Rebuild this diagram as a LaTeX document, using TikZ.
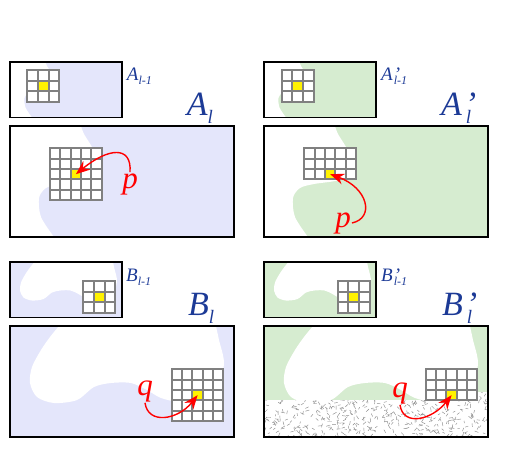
\documentclass[tikz,border=0pt]{standalone}
\usepackage{fontspec}
\setmainfont{Liberation Serif}
\usetikzlibrary{arrows.meta}

\definecolor{paleblue}{RGB}{228,230,251}
\definecolor{palegreen}{RGB}{214,236,208}
\definecolor{labelblue}{RGB}{28,58,150}

\newcommand{\bigsub}[1]{\raisebox{-8pt}{\fontsize{19}{19}\selectfont #1}}
\newcommand{\smallsub}[1]{\raisebox{-4pt}{\fontsize{12}{12}\selectfont #1}}

% grid of cells: x, y, cols, rows, cell size, marked col, marked row, name
\newcommand{\cellgrid}[8]{%
  \fill[white] (#1,#2) rectangle ++(#3*#5,#4*#5);
  \fill[yellow] (#1+#6*#5,#2+#7*#5) rectangle ++(#5,#5);
  \coordinate (#8) at (#1+#6*#5+#5/2,#2+#7*#5+#5/2);
  \foreach \i in {0,...,#3} \draw[gridline] (#1+\i*#5,#2) -- ++(0,#4*#5);
  \foreach \j in {0,...,#4} \draw[gridline] (#1,#2+\j*#5) -- ++(#3*#5,0);
}

\begin{document}
\begin{tikzpicture}[x=1pt,y=-1pt,
  frame/.style={draw=black,line width=1.8pt},
  gridline/.style={draw=gray,line width=2pt,line cap=rect},
  fleck/.style={draw=black!45,line width=0.45pt},
  arrowred/.style={draw=red,line width=1.4pt,-{Stealth[length=14pt,width=11pt]}},
  ptlabel/.style={text=red,inner sep=1pt,font=\fontsize{31}{31}\selectfont\itshape},
  biglabel/.style={text=labelblue,inner sep=0pt,anchor=base west,font=\fontsize{34}{34}\selectfont\itshape},
  smalllabel/.style={text=labelblue,inner sep=0pt,anchor=base west,font=\fontsize{19}{19}\selectfont\itshape}]
\useasboundingbox (0,0) rectangle (507,459);

% A rows: region left of the edge stays white
\foreach \px/\py/\sc/\col in {10/126/1/paleblue,10/62/0.5/paleblue,264/126/1/palegreen,264/62/0.5/palegreen}{
  \begin{scope}[shift={(\px,\py)},scale=\sc]
    \fill[\col] (0,0) rectangle (224,111);
    \fill[white] (0,0) -- plot[smooth] coordinates {(71,0) (74,8) (82,21) (90,37) (86,50) (71,55) (50,58) (36,62) (29,72) (31,91) (44,111)} -- (0,111) -- cycle;
  \end{scope}
}

% B rows: white blob under the top edge
\foreach \px/\py/\sc/\col in {10/326/1/paleblue,10/262/0.5/paleblue,264/326/1/palegreen,264/262/0.5/palegreen}{
  \begin{scope}[shift={(\px,\py)},scale=\sc]
    \fill[\col] (0,0) rectangle (224,111);
    \fill[white] plot[smooth] coordinates {(49,0) (40,11) (31,24) (22,41) (20,57) (27,71) (44,77) (67,74) (84,61) (101,57) (121,57) (137,64) (151,72) (170,76) (192,74) (208,60) (214,37) (209,14) (206,0)} -- cycle;
  \end{scope}
}

% noisy part of B'_l
\begin{scope}[shift={(264,326)}]
  \clip (0,74) -- (186,74) .. controls (192,74) and (190,66) .. (196,66) -- (224,66) -- (224,111) -- (0,111) -- cycle;
  \fill[white] (0,60) rectangle (224,111);
  \pgfmathsetseed{42}
  \foreach \k in {1,...,520}
    \draw[fleck] ({rnd*226-1},{64+rnd*48}) -- ++({rnd*360}:{2+rnd*2.5});
\end{scope}

% grids
\cellgrid{27.3}{70}{3}{3}{10.6}{1}{1}{hitAs}
\cellgrid{50}{148.3}{5}{5}{10.35}{2}{2}{hitA}
\cellgrid{281.7}{70}{3}{3}{10.6}{1}{1}{hitAps}
\cellgrid{304.3}{148.3}{5}{3}{10.35}{2}{2}{hitAp}
\cellgrid{83.3}{281}{3}{3}{10.6}{1}{1}{hitBs}
\cellgrid{171.7}{369.3}{5}{5}{10.35}{2}{2}{hitB}
\cellgrid{337.7}{281}{3}{3}{10.6}{1}{1}{hitBps}
\cellgrid{425.7}{369.3}{5}{3}{10.35}{2}{2}{hitBp}

% frames
\draw[frame] (10,62) rectangle (122,117.5);
\draw[frame] (10,126) rectangle (234,237);
\draw[frame] (264,62) rectangle (376,117.5);
\draw[frame] (264,126) rectangle (488,237);
\draw[frame] (10,262) rectangle (122,317.5);
\draw[frame] (10,326) rectangle (234,437);
\draw[frame] (264,262) rectangle (376,317.5);
\draw[frame] (264,326) rectangle (488,437);

% labels
\node[smalllabel] (Asmall) at (126.7,80) {A\smallsub{l-1}};
\node[biglabel] (Abig) at (186.7,115) {A\bigsub{l}};
\node[smalllabel] (Apsmall) at (381,80) {A\rlap{\kern1pt’}\kern1pt\smallsub{l-1}};
\node[biglabel] (Apbig) at (441,115) {A\rlap{\kern3pt’}\kern4pt\bigsub{l}};
\node[smalllabel] (Bsmall) at (126,281) {B\smallsub{l-1}};
\node[biglabel] (Bbig) at (188,315) {B\bigsub{l}};
\node[smalllabel] (Bpsmall) at (381,281) {B\rlap{\kern1pt’}\kern1pt\smallsub{l-1}};
\node[biglabel] (Bpbig) at (442,315) {B\rlap{\kern3pt’}\kern4pt\bigsub{l}};

% p and q with their arrows
\node[ptlabel,anchor=base] (pA) at (130,188) {p};
\node[ptlabel,anchor=base] (pAp) at (343,227) {p};
\node[ptlabel,anchor=base] (qB) at (145,395) {q};
\node[ptlabel,anchor=base] (qBp) at (400,397) {q};

\draw[arrowred] (pA.north) .. controls (132,145) and (108,148) .. (hitA);
\draw[arrowred] (pAp.east) .. controls (375,218) and (368,188) .. (hitAp);
\draw[arrowred] (qB.south) .. controls (148,425) and (178,420) .. (hitB);
\draw[arrowred] (qBp.south) .. controls (403,427) and (432,420) .. (hitBp);
\end{tikzpicture}
\end{document}
